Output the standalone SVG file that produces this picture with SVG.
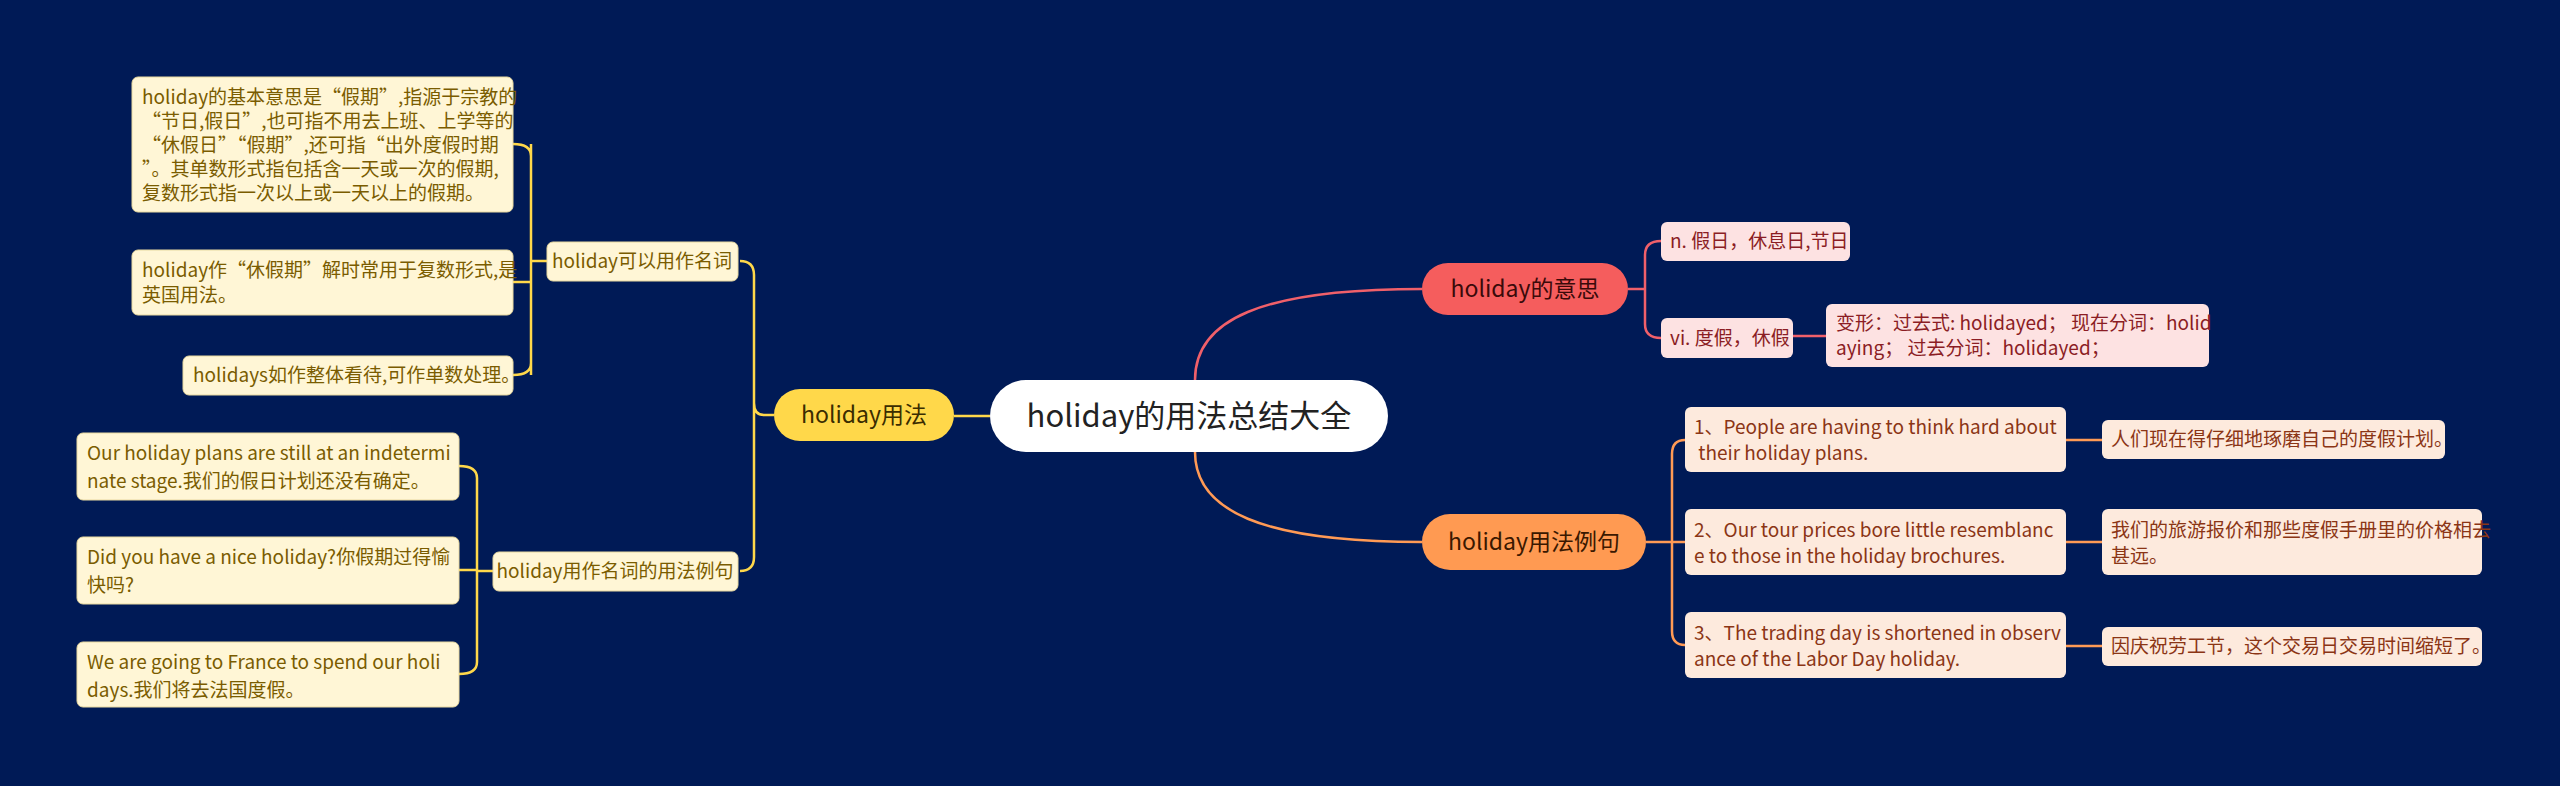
<svg xmlns="http://www.w3.org/2000/svg" width="2560" height="786" viewBox="0 0 2560 786">
<style>
text{font-family:"Noto Sans CJK SC","Noto Sans",sans-serif;}
.ly{fill:#fff6d6;stroke:#e8d9a0;stroke-width:1}
.ty{fill:#7a5c00;font-size:19px}
.lp{fill:#fde2e2}
.tp{fill:#8b1d24;font-size:19px}
.lo{fill:#fdeadd}
.to{fill:#8b3515;font-size:19px}
.c{fill:none;stroke-width:2.5}
</style>
<rect width="2560" height="786" fill="#001a56"/>
<g id="connectors">
<path class="c" stroke="#ffd84a" d="M990 416 H954"/>
<path class="c" stroke="#ffd84a" d="M774 415 H764 Q754 415 754 403 V275 Q754 261 740 261 M754 403 V557 Q754 571 740 571"/>
<path class="c" stroke="#ffd84a" d="M547 261 H531 M531 144 Q531 144 531 375 M513 144 Q531 144 531 156 M513 375 Q531 375 531 363 M513 282 H531"/>
<path class="c" stroke="#ffd84a" d="M493 571 H477 M477 478 V662 M459 466 Q477 466 477 478 M459 674 Q477 674 477 662 M459 570 H477"/>
<path class="c" stroke="#f0606a" d="M1195 380 C1195 320 1260 289 1422 289"/>
<path class="c" stroke="#ff9a55" d="M1195 452 C1195 510 1260 542 1422 542"/>
<path class="c" stroke="#f0606a" d="M1628 289 H1645 M1645 255 V324 M1661 241 Q1645 241 1645 255 M1661 338 Q1645 338 1645 324 M1793 336 H1826"/>
<path class="c" stroke="#ff9a55" d="M1646 542 H1672 M1672 454 V631 M1685 440 Q1672 440 1672 454 M1685 645 Q1672 645 1672 631 M1672 542 H1685 M2066 440 H2102 M2066 542 H2102 M2066 646 H2102"/>
</g>
<g id="root"><rect x="990" y="380" width="398" height="72" rx="36" fill="#fff"/><text x="1189" y="427" font-size="31" fill="#222" text-anchor="middle">holiday的用法总结大全</text></g>
<g id="b-usage"><rect x="774" y="389" width="180" height="52" rx="26" fill="#ffd84a"/><text x="864" y="423" font-size="23" fill="#3a2c00" text-anchor="middle">holiday用法</text></g>
<g id="s-noun"><rect x="547" y="242" width="191" height="39" rx="6" class="ly"/><text x="642" y="268" class="ty" text-anchor="middle">holiday可以用作名词</text></g>
<g id="s-ex"><rect x="493" y="552" width="245" height="39" rx="6" class="ly"/><text x="615" y="578" class="ty" text-anchor="middle">holiday用作名词的用法例句</text></g>
<g id="l1"><rect x="132" y="77" width="381" height="135" rx="6" class="ly"/><text class="ty"><tspan x="142" y="104">holiday的基本意思是“假期”,指源于宗教的</tspan><tspan x="142" y="128">“节日,假日”,也可指不用去上班、上学等的</tspan><tspan x="142" y="152">“休假日”“假期”,还可指“出外度假时期</tspan><tspan x="142" y="176">”。其单数形式指包括含一天或一次的假期,</tspan><tspan x="142" y="200">复数形式指一次以上或一天以上的假期。</tspan></text></g>
<g id="l2"><rect x="132" y="250" width="381" height="65" rx="6" class="ly"/><text class="ty"><tspan x="142" y="277">holiday作“休假期”解时常用于复数形式,是</tspan><tspan x="142" y="302">英国用法。</tspan></text></g>
<g id="l3"><rect x="183" y="356" width="330" height="39" rx="6" class="ly"/><text x="193" y="382" class="ty">holidays如作整体看待,可作单数处理。</text></g>
<g id="e1"><rect x="77" y="433" width="382" height="67" rx="6" class="ly"/><text class="ty"><tspan x="87" y="460">Our holiday plans are still at an indetermi</tspan><tspan x="87" y="488">nate stage.我们的假日计划还没有确定。</tspan></text></g>
<g id="e2"><rect x="77" y="537" width="382" height="67" rx="6" class="ly"/><text class="ty"><tspan x="87" y="564">Did you have a nice holiday?你假期过得愉</tspan><tspan x="87" y="592">快吗?</tspan></text></g>
<g id="e3"><rect x="77" y="642" width="382" height="65" rx="6" class="ly"/><text class="ty"><tspan x="87" y="669">We are going to France to spend our holi</tspan><tspan x="87" y="697">days.我们将去法国度假。</tspan></text></g>
<g id="b-meaning"><rect x="1422" y="263" width="206" height="52" rx="26" fill="#f55d5d"/><text x="1525" y="297" font-size="23" fill="#3a0a0a" text-anchor="middle">holiday的意思</text></g>
<g id="m1"><rect x="1661" y="222" width="189" height="39" rx="6" class="lp"/><text x="1670" y="248" class="tp">n. 假日，休息日,节日</text></g>
<g id="m2"><rect x="1661" y="318" width="132" height="40" rx="6" class="lp"/><text x="1670" y="345" class="tp">vi. 度假，休假</text></g>
<g id="m3"><rect x="1826" y="304" width="383" height="63" rx="6" class="lp"/><text class="tp"><tspan x="1836" y="330">变形：过去式: holidayed；  现在分词：holid</tspan><tspan x="1836" y="355">aying；  过去分词：holidayed；</tspan></text></g>
<g id="b-sent"><rect x="1422" y="514" width="224" height="56" rx="28" fill="#ff9a52"/><text x="1534" y="550" font-size="23" fill="#3a1800" text-anchor="middle">holiday用法例句</text></g>
<g id="x1"><rect x="1685" y="407" width="381" height="65" rx="6" class="lo"/><text class="to"><tspan x="1694" y="434">1、People are having to think hard about</tspan><tspan x="1694" y="460"> their holiday plans.</tspan></text></g>
<g id="x2"><rect x="1685" y="509" width="381" height="66" rx="6" class="lo"/><text class="to"><tspan x="1694" y="537">2、Our tour prices bore little resemblanc</tspan><tspan x="1694" y="563">e to those in the holiday brochures.</tspan></text></g>
<g id="x3"><rect x="1685" y="612" width="381" height="66" rx="6" class="lo"/><text class="to"><tspan x="1694" y="640">3、The trading day is shortened in observ</tspan><tspan x="1694" y="666">ance of the Labor Day holiday.</tspan></text></g>
<g id="t1"><rect x="2102" y="420" width="343" height="39" rx="6" class="lo"/><text x="2111" y="446" class="to">人们现在得仔细地琢磨自己的度假计划。</text></g>
<g id="t2"><rect x="2102" y="509" width="380" height="66" rx="6" class="lo"/><text class="to"><tspan x="2111" y="537">我们的旅游报价和那些度假手册里的价格相去</tspan><tspan x="2111" y="563">甚远。</tspan></text></g>
<g id="t3"><rect x="2102" y="627" width="380" height="39" rx="6" class="lo"/><text x="2111" y="653" class="to">因庆祝劳工节，这个交易日交易时间缩短了。</text></g>
</svg>
